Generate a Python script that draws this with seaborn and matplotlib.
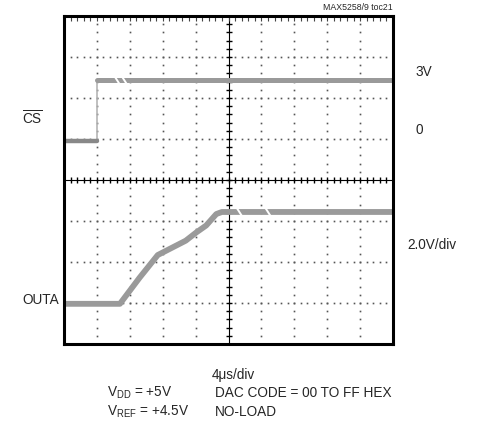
import numpy as np
import pandas as pd
import matplotlib
matplotlib.use("Agg")
import matplotlib.pyplot as plt
import seaborn as sns

# ---- data (divisions: x 0..10, y 0..8) ----
cs_t = [0.0, 1.0, 1.0, 10.0]
cs_v = [4.95, 4.95, 6.45, 6.45]

outa_t = [0.0, 1.7, 2.3, 2.85, 3.7, 4.02, 4.32, 4.63, 4.8, 10.0]
outa_v = [0.98, 0.98, 1.62, 2.17, 2.52, 2.72, 2.89, 3.17, 3.22, 3.22]

# white slash artefacts on the traces (x of each break)
cs_breaks = [1.6, 1.82]
outa_breaks = [5.33, 6.2]

sns.set_style("white")
plt.rcParams['font.family'] = ['Liberation Sans Narrow', 'Liberation Sans', 'DejaVu Sans']
plt.rcParams['mathtext.default'] = 'regular'

fig = plt.figure(figsize=(4.82, 4.35), dpi=100)
ax = fig.add_axes([64 / 482, 90 / 435, 329 / 482, 328 / 435])
ax.set_xlim(0, 10)
ax.set_ylim(0, 8)

# graticule: dotted lines, one dot every 1/5 division
minor = np.arange(0, 10.01, 0.2)
minor_y = np.arange(0, 8.01, 0.2)
for gx in range(1, 10):
    if gx == 5:
        continue
    ax.plot(np.full_like(minor_y, gx), minor_y, ls='none', marker='s', ms=1.2,
            color='#555555', mew=0)
for gy in range(1, 8):
    if gy == 4:
        continue
    ax.plot(minor, np.full_like(minor, gy), ls='none', marker='s', ms=1.2,
            color='#555555', mew=0)

# centre axes with tick marks
ax.axvline(5, color='black', lw=0.8)
ax.axhline(4, color='black', lw=0.8)
ax.plot(np.full_like(minor_y, 5), minor_y, ls='none', marker='_', ms=4,
        color='black', mew=1.0)
ax.plot(minor, np.full_like(minor, 4), ls='none', marker='|', ms=4,
        color='black', mew=1.0)
# edge ticks
ax.plot(minor, np.full_like(minor, 7.93), ls='none', marker='|', ms=2.5,
        color='#444444', mew=0.8)

# traces
trace = '#9a9a9a'
df_cs = pd.DataFrame({'t': cs_t, 'v': cs_v})
df_out = pd.DataFrame({'t': outa_t, 'v': outa_v})
sns.lineplot(data=df_cs.iloc[1:3], x='t', y='v', estimator=None, sort=False,
             color='#b5b5b5', lw=1.2, ax=ax)
sns.lineplot(data=df_cs.iloc[0:2], x='t', y='v', estimator=None, sort=False,
             color='#888888', lw=3.2, ax=ax)
sns.lineplot(data=df_cs.iloc[2:4], x='t', y='v', estimator=None, sort=False,
             color=trace, lw=3.6, ax=ax)
sns.lineplot(data=df_out, x='t', y='v', estimator=None, sort=False,
             color=trace, lw=4.2, ax=ax)

for b in cs_breaks:
    ax.plot([b - 0.08, b + 0.08], [cs_v[-1] + 0.1, cs_v[-1] - 0.1],
            color='white', lw=1.4)
for b in outa_breaks:
    ax.plot([b - 0.08, b + 0.08], [outa_v[-1] + 0.1, outa_v[-1] - 0.1],
            color='white', lw=1.4)

ax.set_xticks([])
ax.set_yticks([])
ax.set_xlabel('')
ax.set_ylabel('')
for s in ax.spines.values():
    s.set_visible(True)
    s.set_color('black')
    s.set_linewidth(2.2)

# annotations
W, H = 482, 435
def t(x, y, s, **kw):
    fig.text(x / W, 1 - y / H, s, va='center', **kw)

fs = 9.8
t(393, 8, 'MAX5258/9 toc21', fontsize=6.3, ha='right')
t(416, 72, '3V', fontsize=fs, ha='left')
t(416, 130, '0', fontsize=fs, ha='left')
t(22, 118, r'$\overline{\mathregular{CS}}$', fontsize=fs, ha='left')
t(22, 300, 'OUTA', fontsize=fs, ha='left')
t(407, 245, '2.0V/div', fontsize=fs, ha='left')
t(233, 375, '4\u03bcs/div', fontsize=fs, ha='center')
t(107, 393, r'V$_{DD}$ = +5V', fontsize=fs, ha='left')
t(215, 393, 'DAC CODE = 00 TO FF HEX', fontsize=fs, ha='left')
t(107, 412, r'V$_{REF}$ = +4.5V', fontsize=fs, ha='left')
t(215, 412, 'NO-LOAD', fontsize=fs, ha='left')

fig.savefig('out.png', dpi=100)
